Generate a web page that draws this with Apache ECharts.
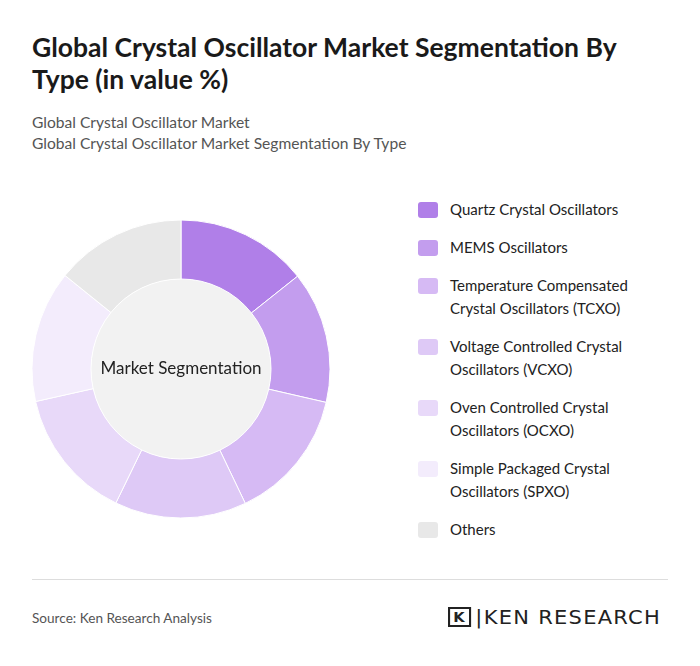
<!DOCTYPE html>
<html><head><meta charset="utf-8">
<script src="https://cdn.jsdelivr.net/npm/echarts@6/dist/echarts.min.js"></script>
<style>
body{margin:0;width:700px;height:666px;background:#fff;font-family:Lato,sans-serif;position:relative;overflow:hidden}
#t{position:absolute;left:32px;top:31px;font-size:26.5px;font-weight:bold;line-height:32px;color:#1a1a1a;width:600px}
#s{position:absolute;left:32px;top:112px;font-size:15.6px;line-height:21px;color:#555}
#c{position:absolute;left:0;top:180px;width:380px;height:380px}
#lg{position:absolute;left:418px;top:198px;font-size:15px;color:#222}
.it{position:relative;padding-left:32px;line-height:23px;margin-bottom:15px}
.sw{position:absolute;left:0;top:4px;width:20px;height:16px;border-radius:3px}
#hr{position:absolute;left:32px;top:579px;width:636px;height:1px;background:#ddd}
#src{position:absolute;left:32px;top:610px;font-size:13.6px;color:#555}
#logo{position:absolute;left:448px;top:605px;font-size:20px;color:#222;font-family:"DejaVu Sans",sans-serif;letter-spacing:1.2px;transform:scaleX(1.05);transform-origin:left}
</style></head><body>
<div id="t">Global Crystal Oscillator Market Segmentation By Type (in value %)</div>
<div id="s">Global Crystal Oscillator Market<br>Global Crystal Oscillator Market Segmentation By Type</div>
<div id="c"></div>
<div id="lg"></div>
<div id="hr"></div>
<div id="src">Source: Ken Research Analysis</div>
<div id="logo"><span style="display:inline-block;border:2px solid #222;font-weight:bold;font-size:14px;padding:0 3px;margin-right:4px;vertical-align:2px">K</span>|KEN RESEARCH</div>
<script>
const categories=["Quartz Crystal Oscillators","MEMS Oscillators","Temperature Compensated\nCrystal Oscillators (TCXO)","Voltage Controlled Crystal\nOscillators (VCXO)","Oven Controlled Crystal\nOscillators (OCXO)","Simple Packaged Crystal\nOscillators (SPXO)","Others"];
const values=[14.3,14.3,14.3,14.3,14.3,14.3,14.2];
const colors=["#b07fe8","#c39dee","#d6baf4","#dec9f6","#e8d9f9","#f3ecfc","#e8e8e8"];
const lg=document.getElementById('lg');
categories.forEach((n,i)=>{const d=document.createElement('div');d.className='it';d.innerHTML='<span class="sw" style="background:'+colors[i]+'"></span>'+n.replace('\n','<br>');lg.appendChild(d);});
const ch=echarts.init(document.getElementById('c'));
ch.setOption({animation:false,series:[
{type:'pie',radius:[0,90],center:[181,189],silent:true,data:[{value:1,itemStyle:{color:'#f2f2f2'}}],label:{show:true,position:'center',formatter:'Market Segmentation',fontSize:17,color:'#222',fontFamily:'Lato'},labelLine:{show:false}},
{type:'pie',radius:[90,149],center:[181,189],startAngle:90,label:{show:false},
 data:categories.map((n,i)=>({name:n,value:values[i],itemStyle:{color:colors[i]}})),
 itemStyle:{borderColor:'#fff',borderWidth:1}}
]});
</script></body></html>
